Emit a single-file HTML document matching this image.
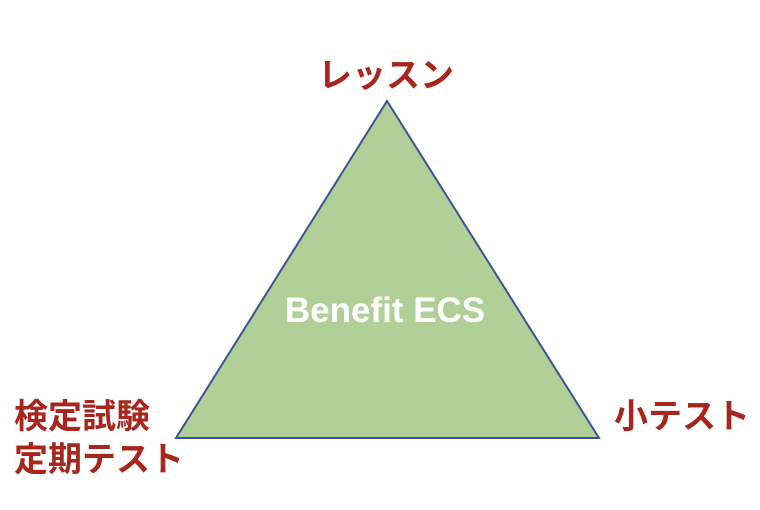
<!DOCTYPE html>
<html><head><meta charset="utf-8"><style>
html,body{margin:0;padding:0;background:#fff;}
body{width:760px;height:510px;position:relative;overflow:hidden;}
.t{position:absolute;color:#a7271f;font-weight:bold;font-size:34px;line-height:43px;font-family:"Liberation Sans","Noto Sans CJK JP",sans-serif;white-space:nowrap;}
</style></head><body>
<svg width="760" height="510" style="position:absolute;left:0;top:0">
<polygon points="387,101 176,438 599,438" fill="#b0d098" stroke="#3b5391" stroke-width="2"/>
<text x="385" y="322" text-anchor="middle" fill="#fff" font-family="Liberation Sans, sans-serif" font-weight="bold" font-size="35">Benefit ECS</text>
</svg>
<div class="t" style="left:318px;top:55px;">レッスン</div>
<div class="t" style="left:14px;top:396px;">検定試験<br>定期テスト</div>
<div class="t" style="left:614px;top:396px;">小テスト</div>
</body></html>
